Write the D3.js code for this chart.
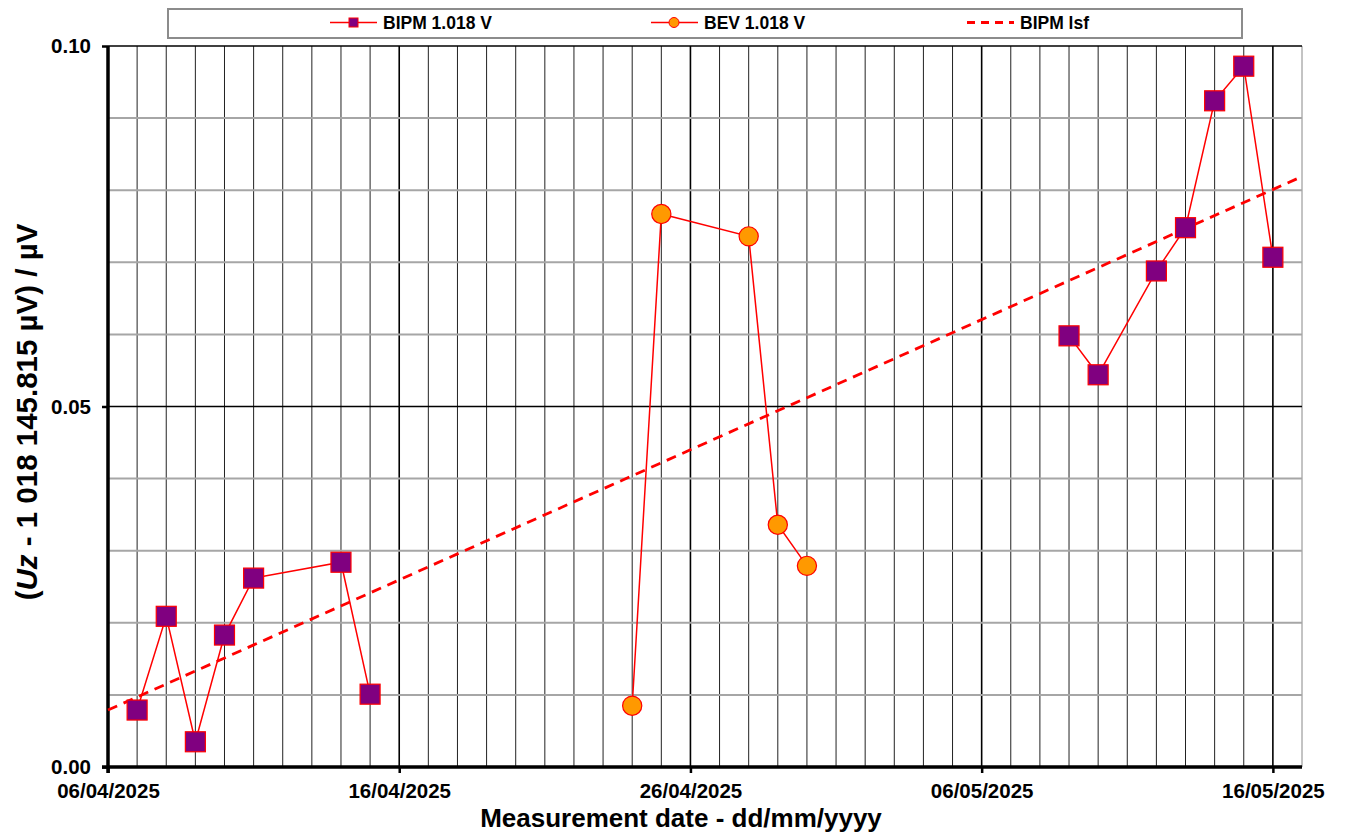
<!DOCTYPE html>
<html>
<head>
<meta charset="utf-8">
<script src="https://cdn.jsdelivr.net/npm/d3@7"></script>
<style>
  html, body { margin: 0; padding: 0; background: #fff; }
  svg { display: block; font-family: "Liberation Sans", Arial, sans-serif; }
</style>
</head>
<body>
<svg id="chart" width="1346" height="834"></svg>
<script>
// Measurement dates (day/month/year) and offsets from 1 018 145.815 µV
const bipmDates = ["07/04/2025","08/04/2025","09/04/2025","10/04/2025","11/04/2025","14/04/2025","15/04/2025",
                   "09/05/2025","10/05/2025","12/05/2025","13/05/2025","14/05/2025","15/05/2025","16/05/2025"];
const bipmValues = [0.0079, 0.0209, 0.0035, 0.0183, 0.0262, 0.0284, 0.0101,
                    0.0598, 0.0544, 0.0688, 0.0748, 0.0924, 0.0972, 0.0707];
const bevDates = ["24/04/2025","25/04/2025","28/04/2025","29/04/2025","30/04/2025"];
const bevValues = [0.0085, 0.0767, 0.0736, 0.0336, 0.0279];
// Least-squares fit line of the BIPM data across the date range
const lsfDates = ["06/04/2025","17/05/2025"];
const lsfValues = [0.0079, 0.0819];
const xTickLabels = ["06/04/2025","16/04/2025","26/04/2025","06/05/2025","16/05/2025"];
const yTickValues = [0.00, 0.05, 0.10];
const legendLabels = ["BIPM 1.018 V", "BEV 1.018 V", "BIPM lsf"];

const parse = d3.timeParse("%d/%m/%Y");
const fmt = d3.timeFormat("%d/%m/%Y");

const svg = d3.select("#chart");
const plotL = 108, plotR = 1302, plotT = 46, plotB = 767;

const x = d3.scaleTime()
  .domain([parse("06/04/2025"), parse("17/05/2025")])
  .range([plotL, plotR]);
const y = d3.scaleLinear().domain([0, 0.10]).range([plotB, plotT]);

const g = svg.append("g");

// Daily vertical gridlines
const days = d3.timeDay.range(x.domain()[0], d3.timeDay.offset(x.domain()[1], 1));
const majorSet = new Set(xTickLabels);
g.append("g").selectAll("line").data(days).join("line")
  .attr("x1", d => x(d)).attr("x2", d => x(d))
  .attr("y1", plotT).attr("y2", plotB)
  .attr("stroke", d => majorSet.has(fmt(d)) ? "#000" : (fmt(d) === "17/05/2025" ? "#888" : "#222"))
  .attr("stroke-width", d => majorSet.has(fmt(d)) ? 1.6 : 1);

// Horizontal gridlines every 0.01
const hTicks = d3.range(1, 10).map(i => i / 100);
g.append("g").selectAll("line").data(hTicks).join("line")
  .attr("x1", plotL).attr("x2", plotR)
  .attr("y1", d => y(d)).attr("y2", d => y(d))
  .attr("stroke", d => Math.abs(d - 0.05) < 1e-9 ? "#000" : "#a6a6a6")
  .attr("stroke-width", d => Math.abs(d - 0.05) < 1e-9 ? 1.6 : 2);

// Top border
g.append("line").attr("x1", plotL).attr("x2", plotR).attr("y1", y(0.10)).attr("y2", y(0.10))
  .attr("stroke", "#000").attr("stroke-width", 1.5);

// Axes
const xAxis = d3.axisBottom(x)
  .tickValues(xTickLabels.map(parse))
  .tickFormat(fmt)
  .tickSize(6).tickPadding(10);
const xg = svg.append("g").attr("transform", `translate(0,${plotB})`).call(xAxis);
xg.select(".domain").attr("stroke-width", 3.5).attr("d", `M${plotL - 6},0H${plotR}`);
xg.selectAll(".tick line").attr("stroke-width", 2.5);
xg.selectAll("text").attr("font-size", 20.5).attr("font-weight", "bold").attr("fill", "#000")
  .attr("dy", "0.71em");

const yAxis = d3.axisLeft(y).tickValues(yTickValues).tickFormat(d3.format(".2f")).tickSize(6).tickPadding(11);
const yg = svg.append("g").attr("transform", `translate(${plotL},0)`).call(yAxis);
yg.select(".domain").attr("stroke-width", 3.5).attr("d", `M0,${plotT}V${plotB + 6}`);
yg.selectAll(".tick line").attr("stroke-width", 2.5);
yg.selectAll("text").attr("font-size", 20.5).attr("font-weight", "bold").attr("fill", "#000");

// Axis titles
svg.append("text").attr("x", 681).attr("y", 827).attr("text-anchor", "middle")
  .attr("font-size", 26).attr("font-weight", "bold").text("Measurement date - dd/mm/yyyy");

const yt = svg.append("text").attr("transform", `translate(37,412) rotate(-90)`)
  .attr("text-anchor", "middle").attr("font-size", 29.5).attr("font-weight", "bold");
yt.append("tspan").text("(");
yt.append("tspan").attr("font-style", "italic").text("Uz");
yt.append("tspan").text(" - 1 018 145.815 µV) / µV");

// Fit line
const line = d3.line().x(d => x(d[0])).y(d => y(d[1]));
svg.append("path")
  .datum(lsfDates.map((d, i) => [parse(d), lsfValues[i]]))
  .attr("d", line).attr("fill", "none").attr("stroke", "#ff0000")
  .attr("stroke-width", 2.8).attr("stroke-dasharray", "10,7");

// Series lines, broken where consecutive measurements are more than a week apart
const bipm = bipmDates.map((d, i) => [parse(d), bipmValues[i]]);
const bev = bevDates.map((d, i) => [parse(d), bevValues[i]]);
function runs(pts) {
  const out = [[pts[0]]];
  for (let i = 1; i < pts.length; i++) {
    if (d3.timeDay.count(pts[i - 1][0], pts[i][0]) > 7) out.push([]);
    out[out.length - 1].push(pts[i]);
  }
  return out;
}
svg.append("g").selectAll("path").data([...runs(bipm), ...runs(bev)]).join("path")
  .attr("d", line).attr("fill", "none")
  .attr("stroke", "#ff0000").attr("stroke-width", 1.5);

// Markers
svg.append("g").selectAll("rect").data(bipm).join("rect")
  .attr("x", d => x(d[0]) - 10).attr("y", d => y(d[1]) - 10)
  .attr("width", 20).attr("height", 20)
  .attr("fill", "#800080").attr("stroke", "#ff0000").attr("stroke-width", 1.2);

svg.append("g").selectAll("circle").data(bev).join("circle")
  .attr("cx", d => x(d[0])).attr("cy", d => y(d[1])).attr("r", 9.6)
  .attr("fill", "#ff9900").attr("stroke", "#ff0000").attr("stroke-width", 1.2);

// Legend
const lg = svg.append("g");
lg.append("rect").attr("x", 168).attr("y", 9).attr("width", 1074).attr("height", 29)
  .attr("fill", "#fff").attr("stroke", "#8c8c8c").attr("stroke-width", 2);
const legX = [330, 651, 967];
legendLabels.forEach((lab, i) => {
  const cx = legX[i], cy = 22.5;
  if (i < 2) {
    lg.append("line").attr("x1", cx).attr("x2", cx + 47).attr("y1", cy).attr("y2", cy)
      .attr("stroke", "#ff0000").attr("stroke-width", 1.5);
    if (i === 0) {
      lg.append("rect").attr("x", cx + 19).attr("y", cy - 4.5).attr("width", 9).attr("height", 9)
        .attr("fill", "#800080").attr("stroke", "#ff0000").attr("stroke-width", 1);
    } else {
      lg.append("circle").attr("cx", cx + 23).attr("cy", cy).attr("r", 5)
        .attr("fill", "#ff9900").attr("stroke", "#ff0000").attr("stroke-width", 1);
    }
  } else {
    lg.append("line").attr("x1", cx).attr("x2", cx + 47).attr("y1", cy).attr("y2", cy)
      .attr("stroke", "#ff0000").attr("stroke-width", 2.8).attr("stroke-dasharray", "8,6");
  }
  lg.append("text").attr("x", cx + 53).attr("y", cy + 6).attr("font-size", 17.5)
    .attr("font-weight", "bold").text(lab);
});
</script>
</body>
</html>
